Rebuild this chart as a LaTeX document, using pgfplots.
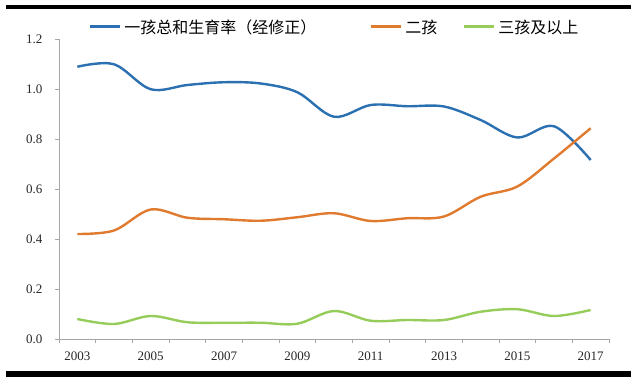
\documentclass[border=0pt]{standalone}
\usepackage{pgfplots}
\pgfplotsset{compat=1.18}
\usepackage{fontspec}
\setmainfont{Liberation Serif}
\newfontfamily\cjk{Noto Sans CJK SC}
\definecolor{cblue}{HTML}{2B70B0}
\definecolor{corange}{HTML}{E07A2E}
\definecolor{cgreen}{HTML}{96CC5A}
\definecolor{caxis}{HTML}{A6A6A6}
\begin{document}
\begin{tikzpicture}[x=1pt,y=1pt]
\path (0,0) rectangle (637,379);
\fill[black] (6,370) rectangle (631,374);
\fill[black] (6,2) rectangle (631,8);
\begin{axis}[
  at={(59pt,40pt)}, anchor=south west,
  scale only axis, width=550pt, height=300pt,
  xmin=2002.5, xmax=2017.5, ymin=0, ymax=1.2,
  axis x line*=bottom, axis y line*=left,
  axis line style={caxis, line width=0.8pt},
  xtick={2003,2005,...,2017},
  xticklabels={2003,2005,2007,2009,2011,2013,2015,2017},
  minor xtick={2002.5,2003.5,...,2017.5},
  major x tick style={draw=none},
  minor x tick style={caxis, line width=0.8pt},
  minor tick length=4pt,
  ytick={0,0.2,...,1.21},
  y tick style={caxis, line width=0.8pt},
  major tick length=4pt,
  tick align=outside,
  yticklabel style={/pgf/number format/fixed, /pgf/number format/fixed zerofill, /pgf/number format/precision=1},
  /pgf/number format/assume math mode=true,
  tick label style={font=\fontsize{13}{15}\selectfont, text=black!85},
  xticklabel style={yshift=-5pt},
  yticklabel style={xshift=-9pt},
  legend style={at={(0.053,1.04)}, anchor=west, draw=none, fill=none,
    legend columns=3, font=\cjk\fontsize{16}{18}\selectfont,
    /tikz/every odd column/.append style={column sep=1pt},
    /tikz/every even column/.append style={column sep=23pt},
    inner sep=0pt},
  legend image code/.code={\draw[#1, line width=3pt] (0pt,0pt) -- (30pt,0pt);},
  legend cell align=left,
  every axis plot/.append style={smooth, tension=0.55, line width=2.4pt, no markers},
]
\addplot[cblue] coordinates {
(2003,1.089) (2004,1.099) (2005,0.999) (2006,1.016) (2007,1.027) (2008,1.022) (2009,0.987)
(2010,0.889) (2011,0.936) (2012,0.931) (2013,0.930) (2014,0.876) (2015,0.806) (2016,0.851) (2017,0.716)};
\addlegendentry{一孩总和生育率（经修正）\hspace*{28pt}}
\addplot[corange] coordinates {
(2003,0.420) (2004,0.434) (2005,0.518) (2006,0.485) (2007,0.479) (2008,0.473) (2009,0.487)
(2010,0.503) (2011,0.472) (2012,0.483) (2013,0.490) (2014,0.569) (2015,0.610) (2016,0.722) (2017,0.843)};
\addlegendentry{二孩}
\addplot[cgreen] coordinates {
(2003,0.080) (2004,0.060) (2005,0.092) (2006,0.067) (2007,0.065) (2008,0.065) (2009,0.061)
(2010,0.112) (2011,0.073) (2012,0.076) (2013,0.076) (2014,0.109) (2015,0.119) (2016,0.092) (2017,0.116)};
\addlegendentry{三孩及以上}
\end{axis}
\end{tikzpicture}
\end{document}
